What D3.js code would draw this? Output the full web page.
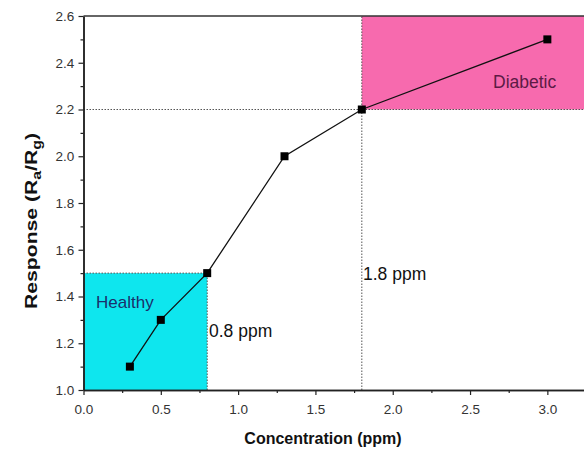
<!DOCTYPE html>
<html>
<head>
<meta charset="utf-8">
<script src="https://cdn.jsdelivr.net/npm/d3@7"></script>
<style>
  body { margin: 0; background: #fff; }
  text { font-family: "Liberation Sans", Arial, sans-serif; }
</style>
</head>
<body>
<svg id="chart"></svg>
<script>
// concentration (ppm) and response values
var concentration = [0.3, 0.5, 0.8, 1.3, 1.8, 3.0];
var response = [1.1, 1.3, 1.5, 2.0, 2.2, 2.5];
var xTicks = [0.0, 0.5, 1.0, 1.5, 2.0, 2.5, 3.0];
var yTicks = [1.0, 1.2, 1.4, 1.6, 1.8, 2.0, 2.2, 2.4, 2.6];
var healthyLimit = [0.8, 1.5];   // ppm, response
var diabeticLimit = [1.8, 2.2];

var width = 584;
var height = 450;
var margin = {top: 16, right: 0, bottom: 60, left: 83.5};

var svg = d3.select('#chart')
    .attr('width', width)
    .attr('height', height);

var x = d3.scaleLinear()
    .domain([0, 3.237])
    .range([margin.left, width - margin.right]);

var y = d3.scaleLinear()
    .domain([1.0, 2.6])
    .range([height - margin.bottom, margin.top]);

// shaded regions
svg.append('rect')
    .attr('x', x(0))
    .attr('y', y(healthyLimit[1]))
    .attr('width', x(healthyLimit[0]) - x(0))
    .attr('height', y(1.0) - y(healthyLimit[1]))
    .attr('fill', '#0ee6ee');

svg.append('rect')
    .attr('x', x(diabeticLimit[0]))
    .attr('y', y(2.6))
    .attr('width', x.range()[1] - x(diabeticLimit[0]))
    .attr('height', y(diabeticLimit[1]) - y(2.6))
    .attr('fill', '#f76aae');

// dotted guide lines
var dot = '1.5,1.5';
svg.append('line')
    .attr('x1', x(0)).attr('x2', x.range()[1])
    .attr('y1', y(diabeticLimit[1])).attr('y2', y(diabeticLimit[1]))
    .attr('stroke', '#555').attr('stroke-dasharray', dot);
svg.append('line')
    .attr('x1', x(diabeticLimit[0])).attr('x2', x(diabeticLimit[0]))
    .attr('y1', y(1.0)).attr('y2', y(2.6))
    .attr('stroke', '#555').attr('stroke-dasharray', dot);
svg.append('line')
    .attr('x1', x(healthyLimit[0])).attr('x2', x(healthyLimit[0]))
    .attr('y1', y(1.0)).attr('y2', y(healthyLimit[1]))
    .attr('stroke', '#555').attr('stroke-dasharray', dot);
svg.append('line')
    .attr('x1', x(0)).attr('x2', x(healthyLimit[0]))
    .attr('y1', y(healthyLimit[1])).attr('y2', y(healthyLimit[1]))
    .attr('stroke', '#555').attr('stroke-dasharray', dot);

// axes
var xAxis = svg.append('g')
    .attr('transform', `translate(0, ${y(1.0)})`)
    .call(d3.axisBottom(x).tickValues(xTicks).tickFormat(d3.format('.1f')).tickSize(5).tickSizeOuter(0));
var xMinor = svg.append('g')
    .attr('transform', `translate(0, ${y(1.0)})`)
    .call(d3.axisBottom(x).tickValues(d3.range(0.25, 3.25, 0.5)).tickFormat('').tickSize(3).tickSizeOuter(0));

var yAxis = svg.append('g')
    .attr('transform', `translate(${x(0)}, 0)`)
    .call(d3.axisLeft(y).tickValues(yTicks).tickFormat(d3.format('.1f')).tickSize(5).tickSizeOuter(0));
var yMinor = svg.append('g')
    .attr('transform', `translate(${x(0)}, 0)`)
    .call(d3.axisLeft(y).tickValues(d3.range(1.1, 2.6, 0.2)).tickFormat('').tickSize(3).tickSizeOuter(0));

[xAxis, xMinor, yAxis, yMinor].forEach(function(g) {
    g.attr('font-size', 13.5).attr('font-family', '"Liberation Sans", Arial, sans-serif');
    g.select('.domain').attr('stroke', '#222').attr('stroke-width', 1.5);
    g.selectAll('.tick line').attr('stroke', '#222').attr('stroke-width', 1.2);
    g.selectAll('.tick text').attr('fill', '#333');
});
xAxis.selectAll('.tick text').attr('dy', '1.15em');
yAxis.selectAll('.tick text').attr('dx', '-0.1em');

// top frame line
svg.append('line')
    .attr('x1', x(0)).attr('x2', x.range()[1])
    .attr('y1', y(2.6)).attr('y2', y(2.6))
    .attr('stroke', '#333').attr('stroke-width', 1.5);

// data line and square markers
var line = d3.line()
    .x((d, i) => x(concentration[i]))
    .y(d => y(d));

svg.append('path')
    .datum(response)
    .attr('d', line)
    .attr('fill', 'none')
    .attr('stroke', '#111')
    .attr('stroke-width', 1.3);

svg.selectAll('.pt')
    .data(response)
    .enter()
    .append('rect')
    .attr('x', (d, i) => x(concentration[i]) - 4)
    .attr('y', d => y(d) - 4)
    .attr('width', 8)
    .attr('height', 8)
    .attr('fill', '#000');

// annotations
svg.append('text')
    .attr('x', 96).attr('y', 308)
    .attr('font-size', 17).attr('fill', '#1b2f6b')
    .text('Healthy');
svg.append('text')
    .attr('x', 493).attr('y', 88)
    .attr('font-size', 17.5).attr('fill', '#5c1a45')
    .text('Diabetic');
svg.append('text')
    .attr('x', 209).attr('y', 337)
    .attr('font-size', 17.5).attr('fill', '#111')
    .text('0.8 ppm');
svg.append('text')
    .attr('x', 363).attr('y', 280)
    .attr('font-size', 17.5).attr('fill', '#111')
    .text('1.8 ppm');

// axis titles
svg.append('text')
    .attr('x', 323)
    .attr('y', 444)
    .attr('text-anchor', 'middle')
    .attr('font-size', 16)
    .attr('font-weight', 'bold')
    .attr('fill', '#111')
    .text('Concentration (ppm)');

var yTitle = svg.append('text')
    .attr('transform', 'translate(37, 221) rotate(-90)')
    .attr('text-anchor', 'middle')
    .attr('font-size', 16)
    .attr('font-weight', 'bold')
    .attr('fill', '#111')
    .attr('textLength', 176)
    .attr('lengthAdjust', 'spacingAndGlyphs');
yTitle.append('tspan').text('Response (R');
yTitle.append('tspan').attr('font-size', 12).attr('dy', 4).text('a');
yTitle.append('tspan').attr('dy', -4).text('/R');
yTitle.append('tspan').attr('font-size', 12).attr('dy', 4).text('g');
yTitle.append('tspan').attr('dy', -4).text(')');
</script>
</body>
</html>
